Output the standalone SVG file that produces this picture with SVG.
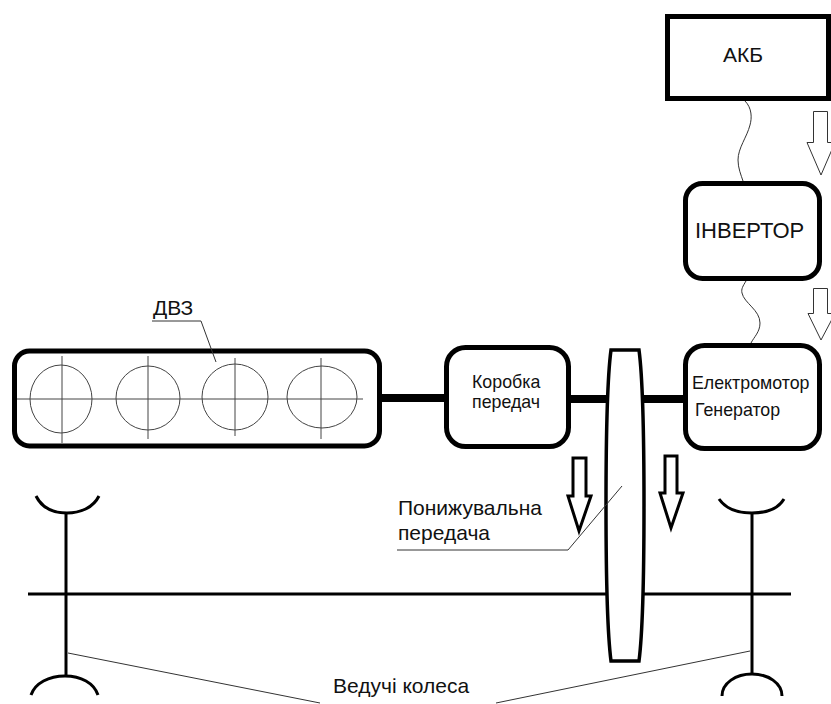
<svg xmlns="http://www.w3.org/2000/svg" width="831" height="704" viewBox="0 0 831 704">
<style>
text{font-family:"Liberation Sans",Arial,sans-serif;fill:#111}
.box{fill:#fff;stroke:#000;stroke-width:5}
.thin{fill:none;stroke:#333;stroke-width:1}
.cyl{fill:none;stroke:#444;stroke-width:1}
.sh{fill:none;stroke:#000;stroke-width:3}
.ar3{fill:#fff;stroke:#000;stroke-width:3;stroke-linejoin:miter}
.ar1{fill:#fff;stroke:#333;stroke-width:1}
</style>
<rect width="831" height="704" fill="#fff"/>
<g id="connectors">
<rect x="381" y="394" width="67" height="8" fill="#000"/>
<rect x="570" y="395" width="38" height="8" fill="#000"/>
<rect x="642" y="395" width="43" height="8" fill="#000"/>
<path class="thin" d="M745 101C752 108 752 118 750 125C747 137 738 148 738 160C738 168 741 175 743 181"/>
<path class="thin" d="M746 281C743 286 741 289 742 293C744 303 760 310 760 323C760 332 754 337 751 343"/>
<line class="sh" x1="28" y1="594" x2="791" y2="594"/>
<line class="sh" x1="66" y1="513" x2="66" y2="677"/>
<line class="sh" x1="752" y1="513" x2="752" y2="674"/>
<path class="sh" d="M36 496C42 508 54 513 67 513C80 513 93 508 99 496"/>
<path class="sh" d="M719 499C726 509 738 513 752 513C766 513 778 509 784 499"/>
<path class="sh" d="M31 695C35 683 49 676 65 676C81 676 94 683 98 695"/>
<path class="sh" d="M722 696C722 683 736 674 752 674C768 674 782 683 782 696"/>
</g>
<g id="reduction-gear">
<path d="M611 350L639 350C643 380 644 460 644 505C644 560 643 630 639 661L611 661C607 630 606 560 606 505C606 460 607 380 611 350Z" fill="#fff" stroke="#000" stroke-width="3.500"/>
</g>
<g id="engine">
<rect class="box" x="14.500" y="351" width="365" height="95" rx="15"/>
<ellipse class="cyl" cx="61" cy="399" rx="31" ry="34"/>
<ellipse class="cyl" cx="148" cy="398" rx="32" ry="32"/>
<ellipse class="cyl" cx="235" cy="397" rx="33" ry="33"/>
<ellipse class="cyl" cx="322" cy="397" rx="35" ry="31"/>
<path class="cyl" d="M17 399H363M62 356V443M148 356V439M235 358V436M321 358V439"/>
<path class="thin" d="M152 321H201L216 362"/>
<text x="153" y="315" font-size="21">ДВЗ</text>
</g>
<g id="gearbox">
<rect class="box" x="446.500" y="347.500" width="122" height="99" rx="19"/>
<text x="472" y="388" font-size="17.800">Коробка</text>
<text x="472" y="408" font-size="17.800">передач</text>
</g>
<g id="motor">
<rect class="box" x="685.500" y="345.500" width="134" height="103" rx="19"/>
<text x="692" y="389" font-size="17.800">Електромотор</text>
<text x="695" y="416" font-size="17.800">Генератор</text>
</g>
<g id="battery">
<rect class="box" x="667.500" y="16.500" width="161" height="82"/>
<text x="723" y="62" font-size="21">АКБ</text>
</g>
<g id="inverter">
<rect class="box" x="685.500" y="183.500" width="134" height="95" rx="17"/>
<text x="695" y="238" font-size="22">ІНВЕРТОР</text>
</g>
<g id="arrows">
<path class="ar3" d="M573 458H586V496H591L579 531L568 496H573Z"/>
<path class="ar3" d="M665 456H677V493H683L671 528L660 493H665Z"/>
<path class="ar1" d="M813.500 111.500H827.500V142.500H835L821 175L807 142.500H813.500Z"/>
<path class="ar1" d="M813.500 288.500H827.500V313.500H835L821 340L808 313.500H813.500Z"/>
</g>
<g id="labels">
<path class="thin" d="M397 550H568L622 486"/>
<text x="398" y="515" font-size="21">Понижувальна</text>
<text x="398" y="540" font-size="21">передача</text>
<path class="thin" d="M68 653L320 703M750 651L496 703"/>
<text x="333" y="693" font-size="21">Ведучі колеса</text>
</g>
</svg>
